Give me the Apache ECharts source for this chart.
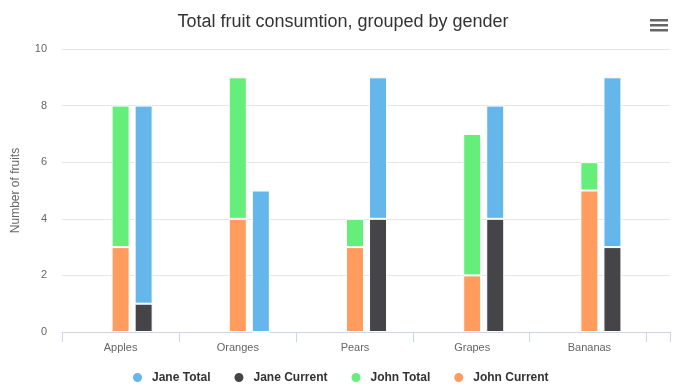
<!DOCTYPE html>
<html><head><meta charset="utf-8">
<script src="https://cdn.jsdelivr.net/npm/echarts@6/dist/echarts.min.js"></script>
<style>html,body{margin:0;padding:0;background:#fff}#c{width:686px;height:387px}</style>
</head><body><div id="c"></div>
<script>
const categories = ['Apples', 'Oranges', 'Pears', 'Grapes', 'Bananas'];
const janeTotal = [7, 5, 5, 4, 6];
const janeCurrent = [1, 0, 4, 4, 3];
const johnTotal = [5, 5, 1, 5, 1];
const johnCurrent = [3, 4, 3, 2, 5];
const yTicks = [0, 2, 4, 6, 8, 10];
const legendNames = ['Jane Total', 'Jane Current', 'John Total', 'John Current'];

const colors = { 'Jane Total': '#65b6eb', 'Jane Current': '#444449', 'John Total': '#66ee7b', 'John Current': '#ff9c5e' };
const font = 'Liberation Sans, Arial, sans-serif';
const chart = echarts.init(document.getElementById('c'));
function bar(name, data, stack) {
  return { name, type: 'bar', stack, data, xAxisIndex: 1, yAxisIndex: 1, barWidth: 18, barGap: '28%',
    itemStyle: { color: colors[name], borderColor: '#fff', borderWidth: 1 }, emphasis: { disabled: true } };
}
chart.setOption({
  animation: false,
  color: legendNames.map(n => colors[n]),
  title: { text: 'Total fruit consumtion, grouped by gender', left: 'center', top: 8,
    textStyle: { fontFamily: font, fontSize: 18, fontWeight: 'normal', color: '#333' } },
  legend: { data: legendNames, top: 366, left: 126, icon: 'circle', itemWidth: 19, itemHeight: 11, itemGap: 22,
    textStyle: { fontFamily: font, fontSize: 12, fontWeight: 'bold', color: '#333' } },
  grid: [
    { left: 62, right: 16, top: 49, bottom: 55 },
    { left: 62, width: 586, top: 49, bottom: 55 }
  ],
  xAxis: [
    { type: 'value', gridIndex: 0, min: 0, max: 5.2, interval: 1,
      axisLine: { show: true, lineStyle: { color: '#ccd6eb' } },
      axisTick: { show: true, length: 10, lineStyle: { color: '#ccd6eb' } },
      axisLabel: { show: false }, splitLine: { show: false } },
    { type: 'category', gridIndex: 1, data: categories,
      axisLine: { show: false }, axisTick: { show: false }, splitLine: { show: false },
      axisLabel: { margin: 10, fontFamily: font, fontSize: 11, color: '#666' } }
  ],
  yAxis: [
    { type: 'value', gridIndex: 0, min: yTicks[0], max: yTicks[yTicks.length - 1], interval: 2,
      name: 'Number of fruits', nameLocation: 'middle', nameGap: 40, nameRotate: 90,
      nameTextStyle: { fontFamily: font, fontSize: 12, color: '#666' },
      axisLine: { show: false }, axisTick: { show: false },
      axisLabel: { margin: 15, fontFamily: font, fontSize: 11, color: '#666' },
      splitLine: { lineStyle: { color: '#e6e6e6' } } },
    { type: 'value', gridIndex: 1, min: yTicks[0], max: yTicks[yTicks.length - 1], show: false, splitLine: { show: false } }
  ],
  graphic: [
    { type: 'rect', left: 650, top: 19, shape: { width: 18, height: 2.5 }, style: { fill: '#666' } },
    { type: 'rect', left: 650, top: 24, shape: { width: 18, height: 2.5 }, style: { fill: '#666' } },
    { type: 'rect', left: 650, top: 29, shape: { width: 18, height: 2.5 }, style: { fill: '#666' } }
  ],
  series: [
    { name: '_pad', type: 'bar', stack: 'pad', data: categories.map(() => null), xAxisIndex: 1, yAxisIndex: 1, barWidth: 18, barGap: '28%' },
    bar('John Current', johnCurrent, 'john'),
    bar('John Total', johnTotal, 'john'),
    bar('Jane Current', janeCurrent, 'jane'),
    bar('Jane Total', janeTotal, 'jane')
  ]
});
</script></body></html>
